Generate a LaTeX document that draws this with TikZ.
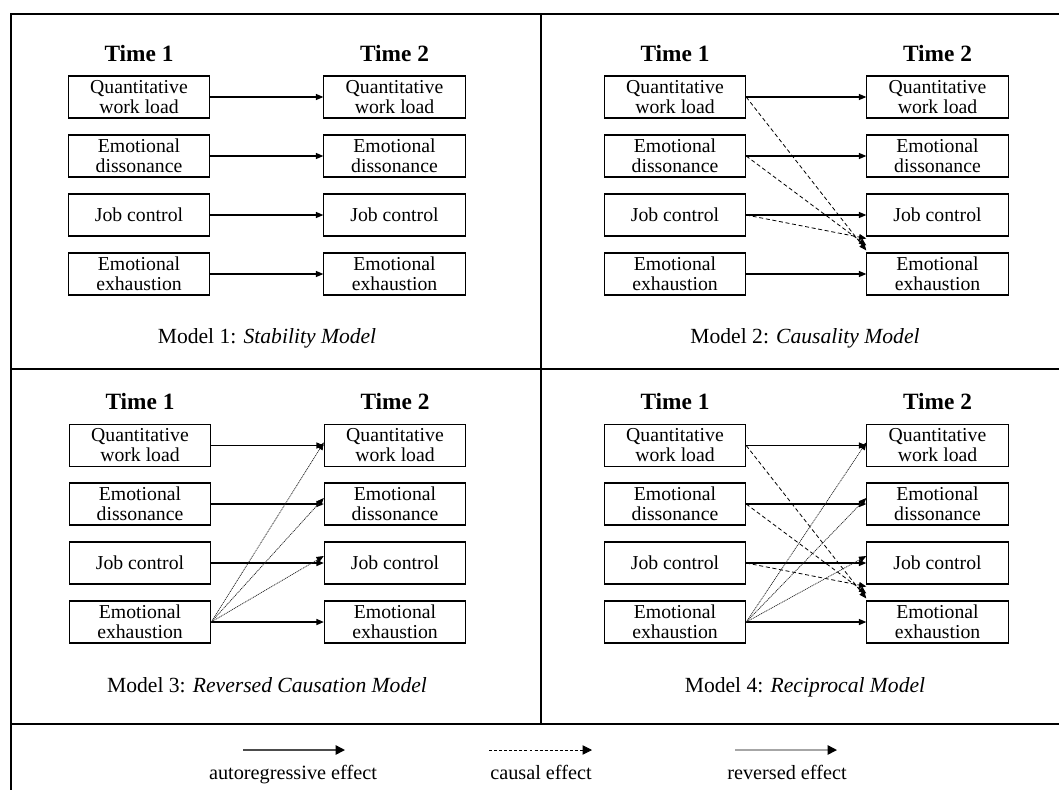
\documentclass[tikz,border=0pt]{standalone}
\usepackage{fontspec}
\setmainfont{Liberation Serif}
\usetikzlibrary{arrows.meta}

\tikzset{every picture/.style={line width=0.75pt}}
\tikzset{
  varbox/.style={draw, line width=0.8pt, minimum width=106pt, minimum height=31.5pt, inner sep=0pt, align=center, font=\fontsize{14.8}{15}\selectfont},
  timelabel/.style={anchor=base, font=\bfseries\fontsize{17.5}{18}\selectfont},
  modelcap/.style={anchor=base, font=\fontsize{16.2}{18}\selectfont},
  legendtext/.style={anchor=base, font=\fontsize{15.2}{16}\selectfont},
  autoreg/.style={-{Triangle[length=5.5pt,width=4.5pt]}, line width=0.8pt},
  causal/.style={-{Triangle[length=5.5pt,width=4.5pt]}, line width=0.6pt, dash pattern=on 3pt off 2pt},
  reversed/.style={-{Triangle[length=5.5pt,width=4.5pt,color=black]}, line width=0.55pt, black!85, dash pattern=on 0.8pt off 0.6pt},
  frameline/.style={line width=1.15pt},
}

\begin{document}
\begin{tikzpicture}[x=0.75pt,y=0.75pt,yscale=-1,xscale=1]
	\useasboundingbox (0,0) rectangle (1059,789);

	%Straight Lines: frame
	\draw [frameline] (11,795) -- (11,14) -- (1065,14) ;
	\draw [frameline] (11,369) -- (1065,369) ;
	\draw [frameline] (11,724) -- (1065,724) ;
	\draw [frameline] (541,14) -- (541,724) ;

	% Model 1
	\node [timelabel] (m1t1) at (139,61) {Time 1};
	\node [timelabel] (m1t2) at (394.5,61) {Time 2};
	\node [varbox] (m1a1) at (139,97) {Quantitative\\work load};
	\node [varbox] (m1a2) at (139,156) {Emotional\\dissonance};
	\node [varbox] (m1a3) at (139,215) {Job control};
	\node [varbox] (m1a4) at (139,274) {Emotional\\exhaustion};
	\node [varbox] (m1b1) at (394.5,97) {Quantitative\\work load};
	\node [varbox] (m1b2) at (394.5,156) {Emotional\\dissonance};
	\node [varbox] (m1b3) at (394.5,215) {Job control};
	\node [varbox] (m1b4) at (394.5,274) {Emotional\\exhaustion};
	\draw [autoreg] (m1a1) -- (m1b1) ;
	\draw [autoreg] (m1a2) -- (m1b2) ;
	\draw [autoreg] (m1a3) -- (m1b3) ;
	\draw [autoreg] (m1a4) -- (m1b4) ;
	\node [modelcap] (m1cap) at (267,343) {Model 1: \textit{Stability Model}};

	% Model 2
	\node [timelabel] (m2t1) at (675,61) {Time 1};
	\node [timelabel] (m2t2) at (937.5,61) {Time 2};
	\node [varbox] (m2a1) at (675,97) {Quantitative\\work load};
	\node [varbox] (m2a2) at (675,156) {Emotional\\dissonance};
	\node [varbox] (m2a3) at (675,215) {Job control};
	\node [varbox] (m2a4) at (675,274) {Emotional\\exhaustion};
	\node [varbox] (m2b1) at (937.5,97) {Quantitative\\work load};
	\node [varbox] (m2b2) at (937.5,156) {Emotional\\dissonance};
	\node [varbox] (m2b3) at (937.5,215) {Job control};
	\node [varbox] (m2b4) at (937.5,274) {Emotional\\exhaustion};
	\draw [autoreg] (m2a1) -- (m2b1) ;
	\draw [autoreg] (m2a2) -- (m2b2) ;
	\draw [autoreg] (m2a3) -- (m2b3) ;
	\draw [autoreg] (m2a4) -- (m2b4) ;
	\draw [causal] (m2a1.east) -- ([yshift=-1.5pt]m2b4.north west) ;
	\draw [causal] (m2a2.east) -- ([yshift=-5.25pt]m2b4.north west) ;
	\draw [causal] (m2a3.east) -- ([yshift=-10.5pt]m2b4.north west) ;
	\node [modelcap] (m2cap) at (805,343) {Model 2: \textit{Causality Model}};

	% Model 3
	\node [timelabel] (m3t1) at (140,409) {Time 1};
	\node [timelabel] (m3t2) at (395,409) {Time 2};
	\node [varbox] (m3a1) at (140,445.5) {Quantitative\\work load};
	\node [varbox] (m3a2) at (140,504) {Emotional\\dissonance};
	\node [varbox] (m3a3) at (140,563) {Job control};
	\node [varbox] (m3a4) at (140,622) {Emotional\\exhaustion};
	\node [varbox] (m3b1) at (395,445.5) {Quantitative\\work load};
	\node [varbox] (m3b2) at (395,504) {Emotional\\dissonance};
	\node [varbox] (m3b3) at (395,563) {Job control};
	\node [varbox] (m3b4) at (395,622) {Emotional\\exhaustion};
	\draw [autoreg] (m3a1) -- (m3b1) ;
	\draw [autoreg] (m3a2) -- (m3b2) ;
	\draw [autoreg] (m3a3) -- (m3b3) ;
	\draw [autoreg] (m3a4) -- (m3b4) ;
	\draw [reversed] (m3a4.east) -- ([yshift=-2.25pt]m3b1.west) ;
	\draw [reversed] (m3a4.east) -- ([yshift=-4.5pt]m3b2.west) ;
	\draw [reversed] (m3a4.east) -- ([yshift=-5.25pt]m3b3.west) ;
	\node [modelcap] (m3cap) at (267,692) {Model 3: \textit{Reversed Causation Model}};

	% Model 4
	\node [timelabel] (m4t1) at (675,409) {Time 1};
	\node [timelabel] (m4t2) at (937.5,409) {Time 2};
	\node [varbox] (m4a1) at (675,445.5) {Quantitative\\work load};
	\node [varbox] (m4a2) at (675,504) {Emotional\\dissonance};
	\node [varbox] (m4a3) at (675,563) {Job control};
	\node [varbox] (m4a4) at (675,622) {Emotional\\exhaustion};
	\node [varbox] (m4b1) at (937.5,445.5) {Quantitative\\work load};
	\node [varbox] (m4b2) at (937.5,504) {Emotional\\dissonance};
	\node [varbox] (m4b3) at (937.5,563) {Job control};
	\node [varbox] (m4b4) at (937.5,622) {Emotional\\exhaustion};
	\draw [autoreg] (m4a1) -- (m4b1) ;
	\draw [autoreg] (m4a2) -- (m4b2) ;
	\draw [autoreg] (m4a3) -- (m4b3) ;
	\draw [autoreg] (m4a4) -- (m4b4) ;
	\draw [causal] (m4a1.east) -- ([yshift=-1.5pt]m4b4.north west) ;
	\draw [causal] (m4a2.east) -- ([yshift=-5.25pt]m4b4.north west) ;
	\draw [causal] (m4a3.east) -- ([yshift=-10.5pt]m4b4.north west) ;
	\draw [reversed] (m4a4.east) -- ([yshift=-2.25pt]m4b1.west) ;
	\draw [reversed] (m4a4.east) -- ([yshift=-4.5pt]m4b2.west) ;
	\draw [reversed] (m4a4.east) -- ([yshift=-5.25pt]m4b3.west) ;
	\node [modelcap] (m4cap) at (805,692) {Model 4: \textit{Reciprocal Model}};

	% Legend
	\coordinate (la1) at (243,750) ;
	\coordinate (la2) at (345,750) ;
	\coordinate (lb1) at (489,750) ;
	\coordinate (lb2) at (592,750) ;
	\coordinate (lc1) at (735,750) ;
	\coordinate (lc2) at (837,750) ;
	\draw [black!70, line width=1.1pt, -{Triangle[length=7pt,width=7pt,color=black]}] (la1) -- (la2) ;
	\draw [line width=0.6pt, dash pattern=on 2.2pt off 1.6pt, -{Triangle[length=7pt,width=7pt]}] (lb1) -- (lb2) ;
	\draw [black!35, line width=1.1pt, -{Triangle[length=7pt,width=7pt,color=black]}] (lc1) -- (lc2) ;
	\node [legendtext] (lta) at (293,779) {autoregressive effect};
	\node [legendtext] (ltb) at (541,779) {causal effect};
	\node [legendtext] (ltc) at (787,779) {reversed effect};

\end{tikzpicture}
\end{document}
